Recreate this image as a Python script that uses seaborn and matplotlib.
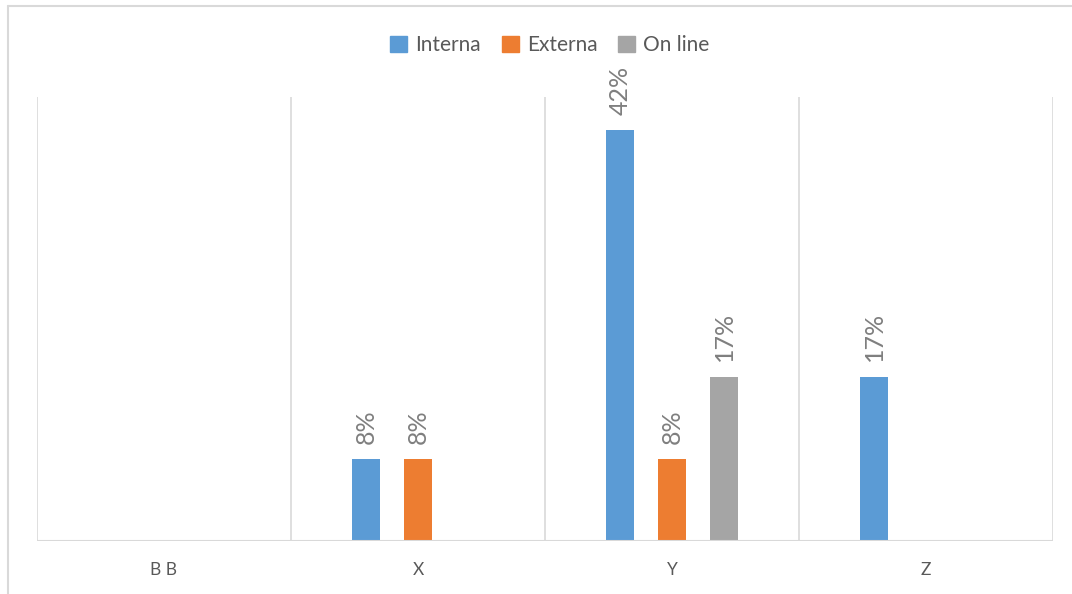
import matplotlib
matplotlib.use('Agg')
import numpy as np
import pandas as pd
import seaborn as sns
import matplotlib.pyplot as plt
from matplotlib.lines import Line2D

# data (fractions: 1/12, 5/12, 2/12)
categories = ['B B', 'X', 'Y', 'Z']
series = ['Interna', 'Externa', 'On line']
interna = [0.0, 1/12, 5/12, 2/12]
externa = [0.0, 1/12, 1/12, 0.0]
online = [0.0, 0.0, 2/12, 0.0]
colors = ['#5B9BD5', '#ED7D31', '#A5A5A5']

rows = []
for vals, s in zip([interna, externa, online], series):
    for c, v in zip(categories, vals):
        rows.append({'cat': c, 'serie': s, 'val': v})
df = pd.DataFrame(rows)

sns.set_style('white')
plt.rcParams['font.family'] = ['Lato', 'DejaVu Sans']

W, H = 1072, 594
fig = plt.figure(figsize=(W/100, H/100), dpi=100)
ax = fig.add_axes([37/W, (H-541)/H, (1053-37)/W, (541-97)/H])

sns.barplot(data=df, x='cat', y='val', hue='serie', hue_order=series,
            order=categories, palette=colors, width=0.614, gap=0.46,
            saturation=1, ax=ax, legend=False, linewidth=0)

# value labels, only where there is a bar
for cont, vals in zip(ax.containers, [interna, externa, online]):
    for bar, v in zip(cont, vals):
        if v <= 0:
            continue
        ax.annotate('{:.0f}%'.format(v*100),
                    (bar.get_x() + bar.get_width()/2, bar.get_height()),
                    xytext=(0, 11), textcoords='offset points',
                    rotation=90, ha='center', va='bottom',
                    fontsize=18, color='#7F7F7F')

ax.set_xlim(-0.5, len(categories) - 0.5)
ax.set_ylim(0, 0.45)
for xv in np.arange(-0.5, len(categories), 1.0):
    ax.axvline(xv, color='#D9D9D9', lw=1.2, zorder=0)
for sp in ax.spines.values():
    sp.set_visible(False)
ax.axhline(0, color='#D9D9D9', lw=1.5, zorder=3)
ax.set_yticks([])
ax.set_xlabel('')
ax.set_ylabel('')
ax.tick_params(axis='x', length=0, pad=15, labelsize=12.5, labelcolor='#595959')

# legend
handles = [plt.Rectangle((0, 0), 1, 1, color=c) for c in colors]
fig.legend(handles, series, loc='center', bbox_to_anchor=(550/W, 1 - 45/H),
           ncol=3, frameon=False, fontsize=15, labelcolor='#595959',
           handlelength=0.8, handleheight=0.8, handletextpad=0.4,
           columnspacing=1.0)

# chart area border (partial, cropped)
fig.add_artist(Line2D([8/W, 8/W], [0, 1 - 6/H], color='#D9D9D9', lw=1.5))
fig.add_artist(Line2D([8/W, 1], [1 - 6/H, 1 - 6/H], color='#D9D9D9', lw=1.5))

fig.savefig('out.png', dpi=100, facecolor='white')
